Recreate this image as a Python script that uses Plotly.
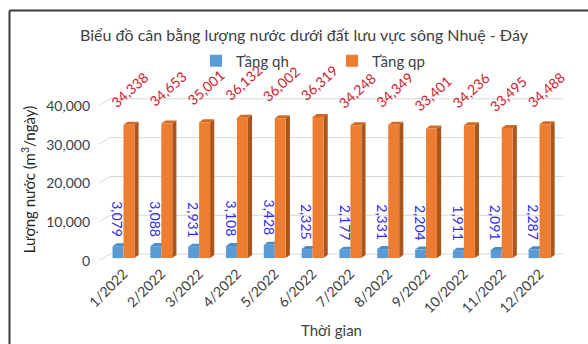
import plotly.graph_objects as go

# Monthly groundwater balance, Nhuệ - Đáy river basin (m3/day)
months = ["1/2022", "2/2022", "3/2022", "4/2022", "5/2022", "6/2022",
          "7/2022", "8/2022", "9/2022", "10/2022", "11/2022", "12/2022"]
tang_qh = [3079, 3088, 2931, 3108, 3428, 2325, 2177, 2331, 2204, 1911, 2091, 2287]
tang_qp = [34338, 34653, 35001, 36132, 36002, 36319, 34248, 34349, 33401, 34236, 33495, 34488]
y_ticks = [0, 10000, 20000, 30000, 40000]

# canvas / plot-area geometry (pixels)
W, H = 588, 344
ML, MR, MT, MB = 97, 22, 97, 82
PW, PH = W - ML - MR, H - MT - MB
X_RANGE = [-0.7, 11.7]
Y_RANGE = [-1000, 41500]

BLUE, BLUE_TOP = "#5B9BD5", "#4F8CC6"
ORANGE, ORANGE_SIDE, ORANGE_TOP = "#ED7D31", "#A9561D", "#D46A22"
GRID = "#D9D9D9"
TEXT = "#404040"
FONT = "Lato"

BAR_W = 0.29           # width of each column (category units)
DX, DY = 0.11, 780     # oblique depth of the 3D columns (x units, y units)
GDX, GDY_BACK, GDY_FRONT = 0.27, 1030, -650   # depth of the wall grid


def px_to_paper_x(px):
    return (px - ML) / PW


def px_to_paper_y(py):
    return (H - MB - py) / PH


x = list(range(len(months)))
fig = go.Figure()
fig.add_trace(go.Bar(x=x, y=tang_qh, name="Tầng qh", marker_color=BLUE,
                     marker_line_width=0, width=BAR_W, offset=-BAR_W))
fig.add_trace(go.Bar(x=x, y=tang_qp, name="Tầng qp", marker_color=ORANGE,
                     marker_line_width=0, width=BAR_W, offset=0))

shapes = []
# back-wall grid lines with their short oblique floor edge
x0 = X_RANGE[0] + 0.065
for v in y_ticks:
    shapes.append(dict(type="line", xref="x", yref="y", layer="below",
                       x0=x0, y0=v + GDY_FRONT, x1=x0 + GDX, y1=v + GDY_BACK,
                       line=dict(color=GRID, width=1)))
    shapes.append(dict(type="line", xref="x", yref="y", layer="below",
                       x0=x0 + GDX, y0=v + GDY_BACK, x1=X_RANGE[1] - 0.07, y1=v + GDY_BACK,
                       line=dict(color=GRID, width=1)))


def top_face(xl, xr, v, color):
    return dict(type="path", xref="x", yref="y", layer="below", fillcolor=color,
                line=dict(width=0),
                path=f"M{xl},{v} L{xr},{v} L{xr + DX},{v + DY} L{xl + DX},{v + DY} Z")


def side_face(xr, v, color):
    return dict(type="path", xref="x", yref="y", layer="below", fillcolor=color,
                line=dict(width=0),
                path=f"M{xr},0 L{xr},{v} L{xr + DX},{v + DY} L{xr + DX},{DY} Z")


for i, (a, b) in enumerate(zip(tang_qh, tang_qp)):
    shapes.append(top_face(i - BAR_W, i, a, BLUE_TOP))
    shapes.append(top_face(i, i + BAR_W, b, ORANGE_TOP))
    shapes.append(side_face(i + BAR_W, b, ORANGE_SIDE))

# chart frame (top and left edges)
fl, ft = px_to_paper_x(9.5), px_to_paper_y(10.5)
shapes.append(dict(type="line", xref="paper", yref="paper", x0=fl, x1=px_to_paper_x(W + 10),
                   y0=ft, y1=ft, line=dict(color="#3A3A3A", width=2)))
shapes.append(dict(type="line", xref="paper", yref="paper", x0=fl, x1=fl,
                   y0=ft, y1=px_to_paper_y(H + 10), line=dict(color="#3A3A3A", width=2)))

annotations = []
for i, (a, b) in enumerate(zip(tang_qh, tang_qp)):
    annotations.append(dict(x=i - BAR_W / 2, y=a, xref="x", yref="y", text=f"{a:,}",
                            textangle=90, showarrow=False, xanchor="center", yanchor="bottom",
                            yshift=7, font=dict(family=FONT, size=14, color="#2B2BEE")))
    annotations.append(dict(x=i + BAR_W / 2 + 0.03, y=b, xref="x", yref="y", text=f"{b:,}",
                            textangle=-42, showarrow=False, xanchor="center", yanchor="bottom",
                            yshift=11, font=dict(family=FONT, size=14, color="#D0202E")))

fig.update_layout(
    width=W, height=H,
    margin=dict(l=ML, r=MR, t=MT, b=MB, autoexpand=False),
    paper_bgcolor="white", plot_bgcolor="rgba(0,0,0,0)",
    barmode="overlay",
    font=dict(family=FONT, color=TEXT),
    title=dict(text="Biểu đồ cân bằng lượng nước dưới đất lưu vực sông Nhuệ - Đáy",
               x=304 / W, xref="container", xanchor="center",
               y=1 - 35 / H, yref="container", yanchor="middle",
               font=dict(family=FONT, size=16, color=TEXT)),
    legend=dict(orientation="h", x=px_to_paper_x(196), xanchor="left",
                y=px_to_paper_y(61), yanchor="middle",
                entrywidth=91, entrywidthmode="pixels",
                font=dict(family=FONT, size=15, color=TEXT), bgcolor="rgba(0,0,0,0)"),
    xaxis=dict(range=X_RANGE, tickvals=x, ticktext=months, tickangle=-45,
               showgrid=False, zeroline=False, showline=False, ticks="",
               tickfont=dict(family=FONT, size=14, color=TEXT),
               title=dict(text="Thời gian", standoff=10,
                          font=dict(family=FONT, size=15, color=TEXT))),
    yaxis=dict(range=Y_RANGE, tickvals=y_ticks, tickformat=",",
               showgrid=False, zeroline=False, showline=False, ticks="",
               ticklabelshift=3, ticklabelstandoff=6,
               tickfont=dict(family=FONT, size=14, color=TEXT),
               title=dict(text="Lượng nước (m<sup>3</sup>/ngày)", standoff=6,
                          font=dict(family=FONT, size=15, color="#262626"))),
    shapes=shapes,
    annotations=annotations,
)

fig.write_html("out.html")
